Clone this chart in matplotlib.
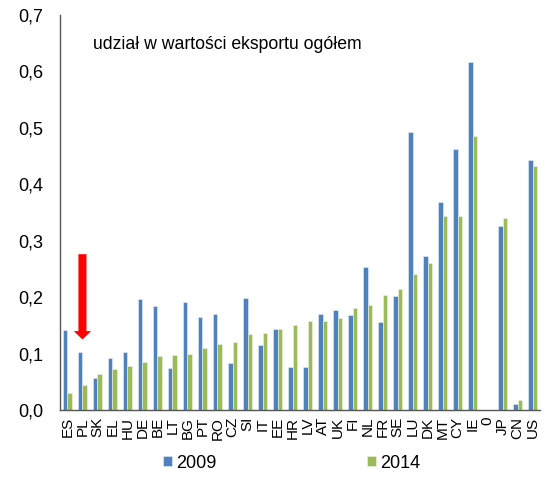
import numpy as np
import matplotlib
matplotlib.use("Agg")
import matplotlib.pyplot as plt

countries = ["ES", "PL", "SK", "EL", "HU", "DE", "BE", "LT", "BG", "PT", "RO", "CZ",
             "SI", "IT", "EE", "HR", "LV", "AT", "UK", "FI", "NL", "FR", "SE", "LU",
             "DK", "MT", "CY", "IE", "0", "JP", "CN", "US"]
v2009 = [0.142, 0.102, 0.056, 0.092, 0.103, 0.197, 0.184, 0.074, 0.191, 0.164, 0.170, 0.083,
         0.198, 0.116, 0.143, 0.076, 0.076, 0.170, 0.178, 0.168, 0.254, 0.156, 0.202, 0.492,
         0.272, 0.368, 0.462, 0.617, np.nan, 0.326, 0.011, 0.443]
v2014 = [0.031, 0.044, 0.064, 0.073, 0.078, 0.085, 0.095, 0.097, 0.100, 0.110, 0.117, 0.120,
         0.135, 0.137, 0.144, 0.151, 0.158, 0.158, 0.163, 0.180, 0.186, 0.203, 0.215, 0.241,
         0.261, 0.343, 0.344, 0.485, np.nan, 0.340, 0.018, 0.432]
series = ["2009", "2014"]
title = "udział w wartości eksportu ogółem"

plt.rcParams['font.family'] = ['Liberation Sans', 'DejaVu Sans']

fig = plt.figure(figsize=(5.45, 4.79), dpi=100)
ax = fig.add_axes([0.110, 0.144, 0.881, 0.825])

x = np.arange(len(countries))
w = 0.3
ax.bar(x - w / 2, v2009, w, color="#4F81BD", edgecolor="#E8EEF7", linewidth=0.4, label=series[0])
ax.bar(x + w / 2, v2014, w, color="#9BBB59", edgecolor="#F0F5E8", linewidth=0.4, label=series[1])

ax.set_xlim(-0.5, len(countries) - 0.5)
ax.set_ylim(0, 0.7)
yt = np.arange(0, 0.71, 0.1)
ax.set_yticks(yt)
ax.set_yticklabels([f"{t:.1f}".replace(".", ",") for t in yt], fontsize=13)
ax.set_xticks(x)
ax.set_xticklabels(countries, rotation=90, fontsize=11)
ax.tick_params(axis="x", length=0, pad=5)
ax.tick_params(axis="y", length=0, pad=12)

for s in ["top", "right"]:
    ax.spines[s].set_visible(False)
for s in ["left", "bottom"]:
    ax.spines[s].set_color("#555555")
    ax.spines[s].set_linewidth(1)

ax.text(0.069, 0.924, title, transform=ax.transAxes, fontsize=12.7, va="center")

# red arrow pointing at PL
ax.annotate("", xy=(1, 0.125), xytext=(1, 0.276),
            arrowprops=dict(arrowstyle="simple,head_width=1.25,head_length=0.6,tail_width=0.58",
                            color="#FF0000", lw=0, shrinkA=0, shrinkB=0, mutation_scale=10))

fig.legend(loc="center", bbox_to_anchor=(0.535, 0.033), ncol=2, frameon=False,
           fontsize=13, handlelength=0.5, handleheight=0.5, handletextpad=0.22,
           columnspacing=8.3, borderpad=0)

fig.savefig("out.png", dpi=100)
